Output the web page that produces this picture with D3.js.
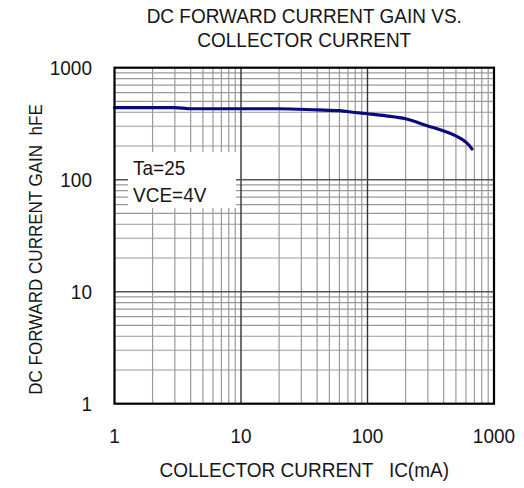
<!DOCTYPE html>
<html>
<head>
<meta charset="utf-8">
<script src="https://cdn.jsdelivr.net/npm/d3@7"></script>
<style>
body { margin: 0; background: #fff; }
text { font-family: "Liberation Sans", Arial, sans-serif; fill: #161616; white-space: pre; }
</style>
</head>
<body>
<script>
var width = 524,
    height = 488;

// hFE vs Ic
var icValues  = [1, 2, 3, 4, 10, 20, 40, 60, 80, 100, 140, 200, 300, 400, 500, 570, 630, 670];
var hfeValues = [440, 440, 440, 430, 430, 430, 420, 413, 398, 388, 372, 350, 302, 272, 246, 226, 205, 188];

var xTicks = [1, 10, 100, 1000];
var yTicks = [1, 10, 100, 1000];
var titleLines = ["DC FORWARD CURRENT GAIN VS.", "COLLECTOR CURRENT"];
var xTitle = "COLLECTOR CURRENT   IC(mA)";
var yTitle = "DC FORWARD CURRENT GAIN  hFE";
var noteLines = ["Ta=25", "VCE=4V"];

var pl = 114.5, pr = 494, pt = 67.7, pb = 403.7;
var sy = 1.1; // glyphs in the reference are a bit taller than wide

var x = d3.scaleLog().domain([1, 1000]).range([pl, pr]);
var y = d3.scaleLog().domain([1, 1000]).range([pb, pt]);

var svg = d3.select("body").append("svg")
    .attr("width", width)
    .attr("height", height);

function place(px, py) {
    return "translate(" + px + "," + py + ") scale(1," + sy + ")";
}

// minor grid values 2..9 per decade
var minor = [];
[1, 10, 100].forEach(function (d) {
    for (var k = 2; k <= 9; k++) minor.push(d * k);
});

var grid = svg.append("g");
grid.selectAll(".vminor").data(minor).enter().append("line")
    .attr("x1", function (d) { return x(d); })
    .attr("x2", function (d) { return x(d); })
    .attr("y1", pt).attr("y2", pb)
    .style("stroke", "#9a9a9a").style("stroke-width", 1.2);
grid.selectAll(".hminor").data(minor).enter().append("line")
    .attr("y1", function (d) { return y(d); })
    .attr("y2", function (d) { return y(d); })
    .attr("x1", pl).attr("x2", pr)
    .style("stroke", "#9a9a9a").style("stroke-width", 1.2);
grid.selectAll(".vmajor").data([10, 100]).enter().append("line")
    .attr("x1", function (d) { return x(d); })
    .attr("x2", function (d) { return x(d); })
    .attr("y1", pt).attr("y2", pb)
    .style("stroke", "#333").style("stroke-width", 1.4);
grid.selectAll(".hmajor").data([10, 100]).enter().append("line")
    .attr("y1", function (d) { return y(d); })
    .attr("y2", function (d) { return y(d); })
    .attr("x1", pl).attr("x2", pr)
    .style("stroke", "#555").style("stroke-width", 1.4);

// curve
var line = d3.line()
    .x(function (d, i) { return x(icValues[i]); })
    .y(function (d) { return y(d); })
    .curve(d3.curveMonotoneX);

svg.append("path")
    .datum(hfeValues)
    .attr("d", line)
    .style("fill", "none")
    .style("stroke", "#0a0a80")
    .style("stroke-width", 3.2)
    .style("stroke-linecap", "round");

// condition box
svg.append("rect")
    .attr("x", 128).attr("y", 152)
    .attr("width", 108).attr("height", 56)
    .style("fill", "#fff");
svg.selectAll(".note").data(noteLines).enter().append("text")
    .attr("transform", function (d, i) { return place(133, 175 + i * 26.5); })
    .style("font-size", "19px")
    .text(function (d) { return d; });

// frame
svg.append("rect")
    .attr("x", pl).attr("y", pt)
    .attr("width", pr - pl).attr("height", pb - pt)
    .style("fill", "none").style("stroke", "#000").style("stroke-width", 2.2);

// axes labels
var fmt = d3.format("d");
svg.selectAll(".xt").data(xTicks).enter().append("text")
    .attr("transform", function (d) { return place(x(d), 443); })
    .attr("text-anchor", "middle")
    .style("font-size", "19px")
    .text(fmt);
svg.selectAll(".yt").data(yTicks).enter().append("text")
    .attr("transform", function (d) { return place(92, y(d) + 7.5); })
    .attr("text-anchor", "end")
    .style("font-size", "19px")
    .text(fmt);

svg.append("text")
    .attr("transform", place((pl + pr) / 2, 477))
    .attr("text-anchor", "middle")
    .style("font-size", "19px")
    .text(xTitle);

svg.append("text")
    .attr("transform", "translate(41.5,249.5) rotate(-90) scale(1," + sy + ")")
    .attr("text-anchor", "middle")
    .style("font-size", "17px")
    .text(yTitle);

svg.selectAll(".title").data(titleLines).enter().append("text")
    .attr("transform", function (d, i) { return place((pl + pr) / 2, 23 + i * 24); })
    .attr("text-anchor", "middle")
    .style("font-size", "19px")
    .text(function (d) { return d; });
</script>
</body>
</html>
